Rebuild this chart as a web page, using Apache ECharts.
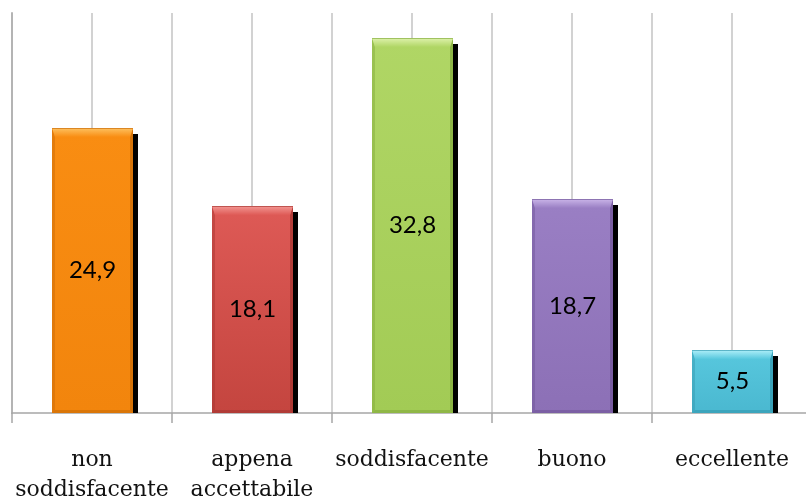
<!DOCTYPE html>
<html>
<head>
<meta charset="utf-8">
<script src="https://cdn.jsdelivr.net/npm/echarts@6/dist/echarts.min.js"></script>
<style>
  html, body { margin: 0; padding: 0; background: #fff; }
  #chart { width: 806px; height: 502px; }
</style>
</head>
<body>
<div id="chart"></div>
<script>
// Valutazione: percentuali per giudizio
const categories = ['non\nsoddisfacente', 'appena\naccettabile', 'soddisfacente', 'buono', 'eccellente'];
const values = [24.9, 18.1, 32.8, 18.7, 5.5];

// Per-bar fill: [top, bottom, bevel highlight, edge shade]
const barColors = [
  ['#F98D12', '#F2850D', '#FDBA55', '#C76906'],
  ['#DE5A56', '#C4453F', '#F08E8A', '#A3332F'],
  ['#B0D665', '#A2CB55', '#D8EEA2', '#80A83A'],
  ['#9A7FC4', '#8C70B6', '#C3ADE3', '#6D5296'],
  ['#58C8DE', '#4AB8D0', '#A2E9F5', '#3296AD']
];

const fmt = v => v.toFixed(1).replace('.', ',');

const chart = echarts.init(document.getElementById('chart'), null, { renderer: 'canvas' });

function renderBar(params, api) {
  const idx = api.value(0);
  const v = api.value(1);
  const top = api.coord([idx, v]);
  const base = api.coord([idx, 0]);
  const bw = api.size([1, 0])[0] * 0.506;
  const x = Math.round(top[0] - bw / 2);
  const y = Math.round(top[1]);
  const h = Math.round(base[1]) - y;
  const w = Math.round(bw);
  const c = barColors[idx];
  const bev = 9, side = 3, bot = 3;
  return {
    type: 'group',
    children: [
      // drop shadow, cut at the axis
      { type: 'rect', shape: { x: x + 5, y: y + 6, width: w, height: h - 6 }, style: { fill: '#000' } },
      // body
      { type: 'rect', shape: { x: x, y: y, width: w, height: h },
        style: { fill: new echarts.graphic.LinearGradient(0, 0, 0, 1, [
          { offset: 0, color: c[0] }, { offset: 1, color: c[1] }]) } },
      // left edge
      { type: 'polygon', shape: { points: [[x, y], [x + side, y + bev], [x + side, y + h - bot], [x, y + h]] },
        style: { fill: c[3], opacity: 0.45 } },
      // right edge
      { type: 'polygon', shape: { points: [[x + w, y], [x + w - side, y + bev], [x + w - side, y + h - bot], [x + w, y + h]] },
        style: { fill: c[3], opacity: 0.7 } },
      // bottom edge
      { type: 'polygon', shape: { points: [[x, y + h], [x + side, y + h - bot], [x + w - side, y + h - bot], [x + w, y + h]] },
        style: { fill: c[3], opacity: 0.55 } },
      // top bevel
      { type: 'polygon', shape: { points: [[x, y], [x + w, y], [x + w - side, y + bev], [x + side, y + bev]] },
        style: { fill: new echarts.graphic.LinearGradient(0, 0, 0, 1, [
          { offset: 0, color: c[3] }, { offset: 0.15, color: c[2] }, { offset: 1, color: c[0] }]) } },
      // value label
      { type: 'text', x: x + w / 2, y: y + h / 2,
        style: { text: fmt(v), fill: '#000', font: '24px Lato', align: 'center', verticalAlign: 'middle' } }
    ]
  };
}

chart.setOption({
  animation: false,
  grid: { left: 12, top: 13, width: 800, height: 400, containLabel: false, outerBoundsMode: 'none' },
  xAxis: [
    {
      type: 'category',
      data: categories,
      boundaryGap: true,
      axisLine: { show: true, lineStyle: { color: '#a6a6a6', width: 1.5 } },
      axisTick: { show: true, length: 10, lineStyle: { color: '#a6a6a6', width: 1.5 } },
      axisLabel: { interval: 0, margin: 32, color: '#111', fontFamily: 'DejaVu Serif', fontSize: 22, lineHeight: 30 },
      splitLine: { show: false }
    },
    {
      // half-category grid: a line at every boundary and every centre
      type: 'category',
      data: ['', '', '', '', '', '', '', '', '', ''],
      boundaryGap: true,
      position: 'bottom',
      axisLine: { show: false },
      axisTick: { show: false },
      axisLabel: { show: false },
      splitLine: { show: true, lineStyle: { color: '#d2d2d2', width: 2 } }
    }
  ],
  yAxis: {
    type: 'value',
    min: 0,
    max: 35,
    axisLine: { show: true, lineStyle: { color: '#b4b4b4', width: 2 } },
    axisTick: { show: false },
    axisLabel: { show: false },
    splitLine: { show: false }
  },
  series: [{
    type: 'custom',
    xAxisIndex: 0,
    renderItem: renderBar,
    encode: { x: 0, y: 1 },
    data: values.map((v, i) => [i, v]),
    z: 5
  }]
});
</script>
</body>
</html>
